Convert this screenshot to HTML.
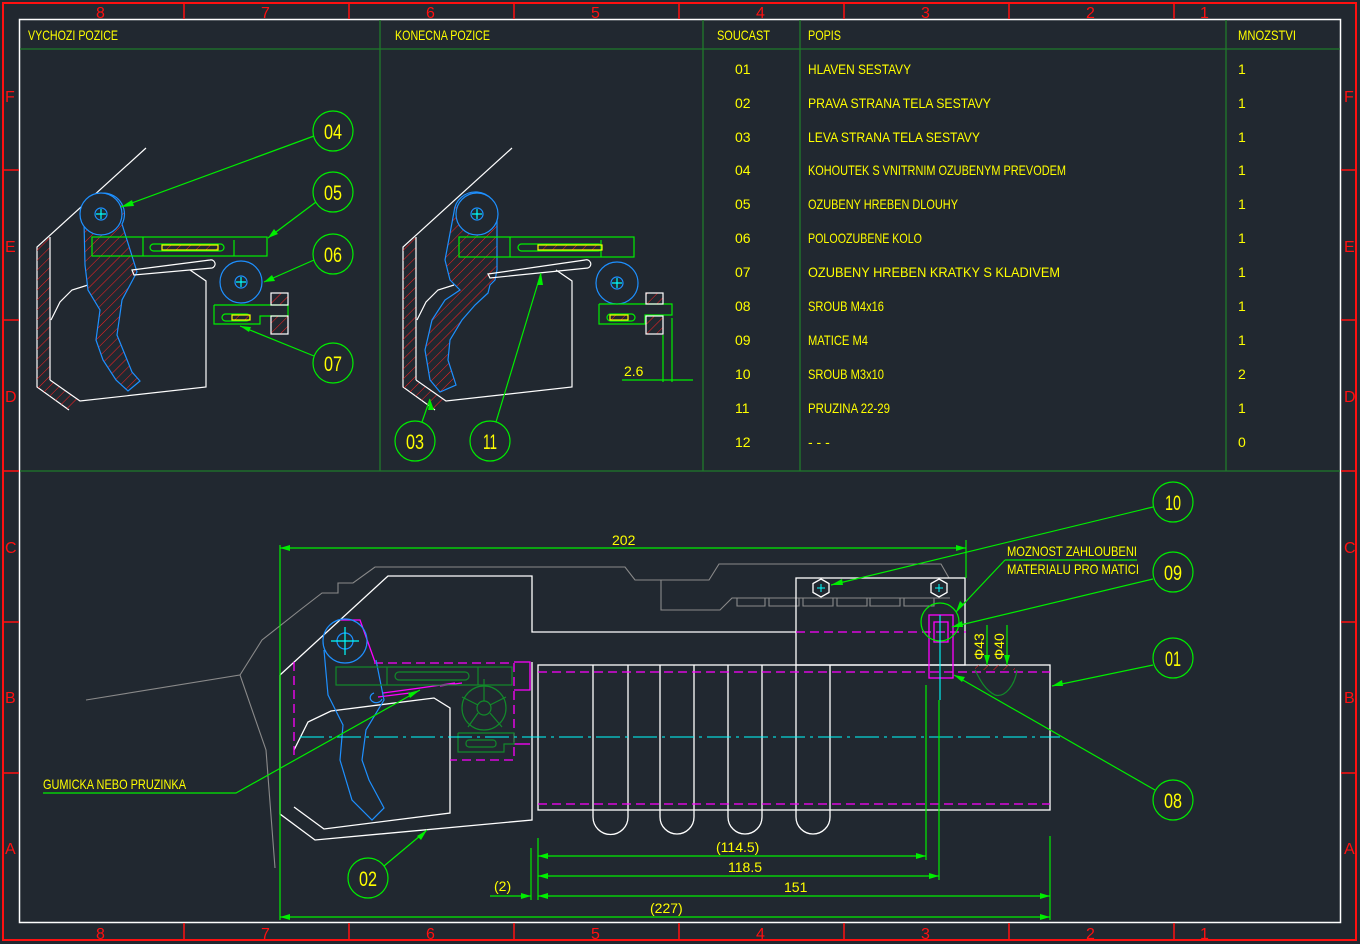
<!DOCTYPE html>
<html><head><meta charset="utf-8"><style>
html,body{margin:0;padding:0;background:#212830;}
svg{display:block}
text{font-family:"Liberation Sans",sans-serif;fill:#ffff00;font-size:14px}
.r{fill:#ff1010;font-size:16px}
.b{font-size:21px;text-anchor:middle}
</style></head><body>
<svg width="1360" height="944" viewBox="0 0 1360 944" xmlns="http://www.w3.org/2000/svg">
<defs>
<pattern id="h" width="7" height="7" patternUnits="userSpaceOnUse" patternTransform="rotate(45)"><line x1="0" y1="0" x2="0" y2="7" stroke="#ff2020" stroke-width="1"/></pattern>
<g id="mech">
 <polyline points="146,148 37,247 37,387 69,410" fill="none" stroke="#fff" stroke-width="1.2"/>
 <polygon points="37,247 50,237 50,380 80,401 69,410 37,387" fill="url(#h)" stroke="none"/>
 <line x1="50" y1="237" x2="50" y2="380" stroke="#fff" stroke-width="1.2"/>
 <polyline points="50,380 80,401 206,387 206,281 190,270" fill="none" stroke="#fff" stroke-width="1.2"/>
 <path d="M51,320 L60,302 L72,290 L88,285" fill="none" stroke="#fff" stroke-width="1.2"/>
</g>
</defs>

<rect x="3" y="3" width="1353" height="937" fill="none" stroke="#ff1010" stroke-width="2"/>
<rect x="19.5" y="19.5" width="1321" height="903" fill="none" stroke="#fff" stroke-width="1.5"/>
<g stroke="#ff1010" stroke-width="1.5">
<line x1="184" y1="3" x2="184" y2="19"/><line x1="349" y1="3" x2="349" y2="19"/><line x1="514" y1="3" x2="514" y2="19"/><line x1="679" y1="3" x2="679" y2="19"/><line x1="844" y1="3" x2="844" y2="19"/><line x1="1009" y1="3" x2="1009" y2="19"/><line x1="1174" y1="3" x2="1174" y2="19"/>
<line x1="184" y1="923" x2="184" y2="940"/><line x1="349" y1="923" x2="349" y2="940"/><line x1="514" y1="923" x2="514" y2="940"/><line x1="679" y1="923" x2="679" y2="940"/><line x1="844" y1="923" x2="844" y2="940"/><line x1="1009" y1="923" x2="1009" y2="940"/><line x1="1174" y1="923" x2="1174" y2="940"/>
<line x1="3" y1="170" x2="19" y2="170"/><line x1="3" y1="320" x2="19" y2="320"/><line x1="3" y1="471" x2="19" y2="471"/><line x1="3" y1="622" x2="19" y2="622"/><line x1="3" y1="773" x2="19" y2="773"/>
<line x1="1341" y1="170" x2="1356" y2="170"/><line x1="1341" y1="320" x2="1356" y2="320"/><line x1="1341" y1="471" x2="1356" y2="471"/><line x1="1341" y1="622" x2="1356" y2="622"/><line x1="1341" y1="773" x2="1356" y2="773"/>
</g>
<g>
<text class="r" x="96" y="18">8</text><text class="r" x="261" y="18">7</text><text class="r" x="426" y="18">6</text><text class="r" x="591" y="18">5</text><text class="r" x="756" y="18">4</text><text class="r" x="921" y="18">3</text><text class="r" x="1086" y="18">2</text><text class="r" x="1200" y="18">1</text>
<text class="r" x="96" y="939">8</text><text class="r" x="261" y="939">7</text><text class="r" x="426" y="939">6</text><text class="r" x="591" y="939">5</text><text class="r" x="756" y="939">4</text><text class="r" x="921" y="939">3</text><text class="r" x="1086" y="939">2</text><text class="r" x="1200" y="939">1</text>
<text class="r" x="5" y="102">F</text><text class="r" x="5" y="252">E</text><text class="r" x="5" y="402">D</text><text class="r" x="5" y="553">C</text><text class="r" x="5" y="703">B</text><text class="r" x="5" y="854">A</text>
<text class="r" x="1344" y="102">F</text><text class="r" x="1344" y="252">E</text><text class="r" x="1344" y="402">D</text><text class="r" x="1344" y="553">C</text><text class="r" x="1344" y="703">B</text><text class="r" x="1344" y="854">A</text>
</g>

<g stroke="#1f7a2a" stroke-width="1.3">
<line x1="20" y1="49" x2="1340" y2="49"/>
<line x1="20" y1="471" x2="1340" y2="471"/>
<line x1="380" y1="20" x2="380" y2="471"/>
<line x1="703" y1="20" x2="703" y2="471"/>
<line x1="800" y1="20" x2="800" y2="471"/>
<line x1="1226" y1="20" x2="1226" y2="471"/>
</g>
<text x="28" y="40" textLength="90" lengthAdjust="spacingAndGlyphs">VYCHOZI POZICE</text>
<text x="395" y="40" textLength="95" lengthAdjust="spacingAndGlyphs">KONECNA POZICE</text>
<text x="717" y="40" textLength="53" lengthAdjust="spacingAndGlyphs">SOUCAST</text>
<text x="808" y="40" textLength="33" lengthAdjust="spacingAndGlyphs">POPIS</text>
<text x="1238" y="40" textLength="58" lengthAdjust="spacingAndGlyphs">MNOZSTVI</text>
<g>
<text x="735" y="74">01</text><text x="808" y="74" textLength="103" lengthAdjust="spacingAndGlyphs">HLAVEN SESTAVY</text><text x="1238" y="74">1</text>
<text x="735" y="108">02</text><text x="808" y="108" textLength="183" lengthAdjust="spacingAndGlyphs">PRAVA STRANA TELA SESTAVY</text><text x="1238" y="108">1</text>
<text x="735" y="142">03</text><text x="808" y="142" textLength="172" lengthAdjust="spacingAndGlyphs">LEVA STRANA TELA SESTAVY</text><text x="1238" y="142">1</text>
<text x="735" y="175">04</text><text x="808" y="175" textLength="258" lengthAdjust="spacingAndGlyphs">KOHOUTEK S VNITRNIM OZUBENYM PREVODEM</text><text x="1238" y="175">1</text>
<text x="735" y="209">05</text><text x="808" y="209" textLength="150" lengthAdjust="spacingAndGlyphs">OZUBENY HREBEN DLOUHY</text><text x="1238" y="209">1</text>
<text x="735" y="243">06</text><text x="808" y="243" textLength="114" lengthAdjust="spacingAndGlyphs">POLOOZUBENE KOLO</text><text x="1238" y="243">1</text>
<text x="735" y="277">07</text><text x="808" y="277" textLength="252" lengthAdjust="spacingAndGlyphs">OZUBENY HREBEN KRATKY S KLADIVEM</text><text x="1238" y="277">1</text>
<text x="735" y="311">08</text><text x="808" y="311" textLength="76" lengthAdjust="spacingAndGlyphs">SROUB M4x16</text><text x="1238" y="311">1</text>
<text x="735" y="345">09</text><text x="808" y="345" textLength="60" lengthAdjust="spacingAndGlyphs">MATICE M4</text><text x="1238" y="345">1</text>
<text x="735" y="379">10</text><text x="808" y="379" textLength="76" lengthAdjust="spacingAndGlyphs">SROUB M3x10</text><text x="1238" y="379">2</text>
<text x="735" y="413">11</text><text x="808" y="413" textLength="82" lengthAdjust="spacingAndGlyphs">PRUZINA 22-29</text><text x="1238" y="413">1</text>
<text x="735" y="447">12</text><text x="808" y="447">- - -</text><text x="1238" y="447">0</text>
</g>

<!-- VIEW 1 -->
<use href="#mech"/>
<g fill="none" stroke-width="1.2">
 <path d="M84,222 A21,21 0 1 1 122,224 L137,272 L130,285 L122,300 L117,335 L132,372 L140,381 L128,391 L116,380 L103,360 L96,340 L100,310 L88,290 L85,265 Z" fill="url(#h)" stroke="#1e90ff"/>
 <circle cx="101" cy="214" r="21" stroke="#1e90ff" fill="#212830"/>
 <circle cx="101" cy="214" r="6" stroke="#1e90ff"/>
 <path d="M96,214h10M101,209v10" stroke="#00ffff"/>
 <rect x="92" y="237" width="175" height="19" stroke="#00ee00"/>
 <line x1="143" y1="237" x2="143" y2="256" stroke="#00ee00"/>
 <line x1="234" y1="240" x2="234" y2="256" stroke="#00ee00"/>
 <rect x="150" y="244" width="74" height="7" rx="3.5" stroke="#00ee00"/>
 <rect x="162" y="245" width="56" height="5" fill="url(#h)" stroke="#ffff00"/>
 <path d="M132,270 L210,260 A4,4 0 0 1 212,268 L134,275 Z" stroke="#fff"/>
 <circle cx="241" cy="282" r="21" stroke="#1e90ff"/>
 <circle cx="241" cy="282" r="6" stroke="#1e90ff"/>
 <path d="M236,282h10M241,277v10" stroke="#00ffff"/>
 <polyline points="214,305 288,305 288,316 260,316 260,324 214,324 214,305" stroke="#00ee00"/>
 <rect x="222" y="314" width="28" height="7" rx="3.5" stroke="#00ee00"/>
 <rect x="232" y="315" width="18" height="5" fill="url(#h)" stroke="#ffff00"/>
 <rect x="271" y="293" width="17" height="12" fill="url(#h)" stroke="#fff"/>
 <rect x="271" y="316" width="17" height="18" fill="url(#h)" stroke="#fff"/>
</g>
<!-- VIEW 2 -->
<use href="#mech" transform="translate(366,0)"/>
<g fill="none" stroke-width="1.2">
 <path d="M454,212 A21,21 0 1 1 497,215 L497,270 L495,280 L490,285 L488,293 L475,305 L462,320 L450,340 L448,360 L456,385 L440,392 L430,380 L425,350 L432,320 L445,300 L460,290 L450,280 L445,260 Z" fill="url(#h)" stroke="#1e90ff"/>
 <circle cx="477" cy="214" r="21" stroke="#1e90ff" fill="#212830"/>
 <circle cx="477" cy="214" r="6" stroke="#1e90ff"/>
 <path d="M472,214h10M477,209v10" stroke="#00ffff"/>
 <rect x="459" y="237" width="175" height="20" stroke="#00ee00"/>
 <line x1="510" y1="237" x2="510" y2="257" stroke="#00ee00"/>
 <line x1="601" y1="240" x2="601" y2="257" stroke="#00ee00"/>
 <rect x="518" y="244" width="84" height="7" rx="3.5" stroke="#00ee00"/>
 <rect x="538" y="245" width="64" height="5" fill="url(#h)" stroke="#ffff00"/>
 <path d="M488,274 L585,260 A4,4 0 0 1 588,268 L490,278 Z" stroke="#fff"/>
 <circle cx="617" cy="283" r="21" stroke="#1e90ff"/>
 <circle cx="617" cy="283" r="6" stroke="#1e90ff"/>
 <path d="M612,283h10M617,278v10" stroke="#00ffff"/>
 <polyline points="599,304 672,304 672,315 645,315 645,324 599,324 599,304" stroke="#00ee00"/>
 <rect x="607" y="314" width="28" height="7" rx="3.5" stroke="#00ee00"/>
 <rect x="610" y="315" width="18" height="5" fill="url(#h)" stroke="#ffff00"/>
 <rect x="646" y="293" width="17" height="11" fill="url(#h)" stroke="#fff"/>
 <rect x="646" y="316" width="17" height="18" fill="url(#h)" stroke="#fff"/>
</g>
<g stroke="#00ee00" stroke-width="1.2" fill="none">
 <line x1="663" y1="335" x2="663" y2="382"/><line x1="672" y1="318" x2="672" y2="382"/>
 <line x1="622" y1="380" x2="693" y2="380"/>
</g>
<text x="624" y="376">2.6</text>

<g stroke="#00ee00" stroke-width="1.2" fill="none">
 <circle cx="333" cy="131" r="20"/><circle cx="333" cy="192" r="20"/><circle cx="333" cy="254" r="20"/><circle cx="333" cy="363" r="20"/>
 <circle cx="415" cy="441" r="20"/><circle cx="490" cy="441" r="20"/>
 <line x1="314" y1="136" x2="121" y2="207"/>
 <line x1="316" y1="202" x2="268" y2="238"/>
 <line x1="314" y1="260" x2="264" y2="282"/>
 <line x1="314" y1="356" x2="240" y2="326"/>
 <line x1="422" y1="422" x2="430" y2="399"/>
 <line x1="496" y1="422" x2="541" y2="273"/>
</g>
<g fill="#00ee00">
 <polygon points="121,207 132,200 134,206"/><polygon points="268,238 274,229 278,234"/><polygon points="264,282 272,275 275,281"/><polygon points="240,326 251,327 249,332"/><polygon points="430,399 428,410 434,410"/><polygon points="541,273 537,285 543,285"/>
</g>
<text class="b" x="333" y="139" textLength="18" lengthAdjust="spacingAndGlyphs">04</text>
<text class="b" x="333" y="200" textLength="18" lengthAdjust="spacingAndGlyphs">05</text>
<text class="b" x="333" y="262" textLength="18" lengthAdjust="spacingAndGlyphs">06</text>
<text class="b" x="333" y="371" textLength="18" lengthAdjust="spacingAndGlyphs">07</text>
<text class="b" x="415" y="449" textLength="18" lengthAdjust="spacingAndGlyphs">03</text>
<text class="b" x="490" y="449" textLength="14" lengthAdjust="spacingAndGlyphs">11</text>

<!-- BOTTOM VIEW -->
<g fill="none" stroke="#8a8a8a" stroke-width="1.1">
 <polyline points="86,700 240,675 266,750 275,868"/>
 <polyline points="240,675 262,640 300,610 322,593 338,593 338,583 353,583 375,567 625,567 635,580 709,580 719,564 941,564 949,578"/>
 <polyline points="640,580 661,580 661,610 720,610 732,598 950,598"/>
 <path d="M737,598v8h28v-8M769,598v8h30v-8M803,598v8h30v-8M837,598v8h30v-8M870,598v8h30v-8M904,598v8h30v-8"/>
</g>
<g fill="none" stroke="#fff" stroke-width="1.3">
 <polyline points="280,675 388,576 532,576 532,632 796,632"/>
 <polyline points="280,675 280,814 315,840 532,820 532,662"/>
 <polyline points="294,807 324,829 450,813 450,708 434,698 331,711 308,722 294,750"/>
 <rect x="796" y="578" width="169" height="87"/>
 <rect x="538" y="665" width="512" height="145"/>
 <path d="M593,810v7a17.5,17.5 0 0 0 35,0v-7M660,810v7a17,17 0 0 0 34,0v-7M728,810v7a17,17 0 0 0 34,0v-7M796,810v7a17,17 0 0 0 34,0v-7"/>
 <path d="M593,665v145M628,665v145M660,665v145M694,665v145M728,665v145M762,665v145M796,665v145M830,665v145"/>
 <polygon points="821,579 829,583.5 829,592.5 821,597 813,592.5 813,583.5"/>
 <polygon points="939,579 947,583.5 947,592.5 939,597 931,592.5 931,583.5"/>
</g>
<path d="M817,588h8M821,584v8M935,588h8M939,584v8" stroke="#00ffff"/>
<g fill="none" stroke="#ff00ff" stroke-width="1.3" stroke-dasharray="9,5">
 <line x1="796" y1="632" x2="966" y2="632"/>
 <line x1="538" y1="672" x2="1050" y2="672"/>
 <line x1="538" y1="804" x2="1050" y2="804"/>
 <polyline points="294,662 294,760"/>
 <polyline points="374,663 514,663 514,760 450,760"/>
</g>
<g fill="none" stroke="#ff00ff" stroke-width="1.3">
 <rect x="929" y="615" width="24" height="63"/><rect x="934" y="622" width="14" height="20"/>
 <polyline points="514,662 530,662 530,690 514,690"/><polyline points="514,744 530,744"/>
 <polyline points="341,620 360,620 375,662"/>
 <path d="M383,693 L420,688 L455,683 M378,697 L410,693 M440,686 L462,683"/>
</g>
<g fill="none" stroke="#1e90ff" stroke-width="1.2">
 <circle cx="345" cy="641" r="22"/><circle cx="345" cy="641" r="8"/>
 <path d="M324,650 L328,695 L343,725 L340,760 L352,800 L372,820 L384,808 L369,780 L362,760 L366,730 L384,700 L376,660"/>
 <path d="M374,693a6,5 0 1 0 8,6"/>
</g>
<path d="M331,641h28M345,627v28" stroke="#00ffff" stroke-width="1.2"/>
<g fill="none" stroke="#128a2a" stroke-width="1.2">
 <rect x="336" y="667" width="176" height="18"/><line x1="387" y1="667" x2="387" y2="685"/><line x1="478" y1="667" x2="478" y2="685"/>
 <rect x="395" y="672" width="74" height="8" rx="4"/>
 <circle cx="484" cy="708" r="22"/><circle cx="484" cy="708" r="7"/>
 <path d="M484,701v-22M490,705l16-8M490,713l12,14M478,713l-10,14M478,705l-16-8"/>
 <polyline points="458,733 514,733 514,744 504,744 504,752 458,752 458,733"/>
 <rect x="466" y="740" width="30" height="7" rx="3"/>
 <circle cx="940" cy="622" r="19" stroke="#00ee00"/>
 <path d="M975,670 C980,680 985,690 995,695 C1005,698 1015,685 1017,670"/>
</g>
<rect x="975" y="665" width="40" height="5" fill="url(#h)"/>
<path d="M300,737H1060" stroke="#00ffff" stroke-width="1.1" stroke-dasharray="24,5,3,5"/>
<path d="M940,615V700" stroke="#00ffff" stroke-width="1.1"/>

<g stroke="#00ee00" stroke-width="1.2" fill="none">
 <line x1="280" y1="548" x2="966" y2="548"/>
 <line x1="280" y1="545" x2="280" y2="920"/>
 <line x1="966" y1="540" x2="966" y2="578"/>
 <line x1="280" y1="917" x2="1050" y2="917"/>
 <line x1="538" y1="896" x2="1050" y2="896"/>
 <line x1="490" y1="896" x2="531" y2="896"/>
 <line x1="531" y1="848" x2="531" y2="900"/>
 <line x1="538" y1="838" x2="538" y2="900"/>
 <line x1="1050" y1="836" x2="1050" y2="920"/>
 <line x1="538" y1="856" x2="926" y2="856"/>
 <line x1="538" y1="876" x2="939" y2="876"/>
 <line x1="926" y1="685" x2="926" y2="860"/>
 <line x1="939" y1="700" x2="939" y2="880"/>
 <line x1="987" y1="625" x2="987" y2="665"/><line x1="1007" y1="625" x2="1007" y2="665"/>
 <circle cx="1173" cy="502" r="20"/><circle cx="1173" cy="572" r="20"/><circle cx="1173" cy="658" r="20"/><circle cx="1173" cy="800" r="20"/><circle cx="368" cy="878" r="20"/>
 <line x1="1153" y1="507" x2="831" y2="585"/>
 <line x1="1153" y1="579" x2="952" y2="627"/>
 <line x1="1153" y1="665" x2="1052" y2="686"/>
 <line x1="1155" y1="790" x2="954" y2="675"/>
 <line x1="384" y1="866" x2="427" y2="830"/>
 <polyline points="43,793 236,793 420,690"/>
 <polyline points="1005,560 1137,560"/>
 <polyline points="1005,560 956,612"/>
</g>
<g fill="#00ee00">
 <polygon points="280,548 290,545 290,551"/><polygon points="966,548 956,545 956,551"/>
 <polygon points="280,917 290,914 290,920"/><polygon points="1050,917 1040,914 1040,920"/>
 <polygon points="538,896 548,893 548,899"/><polygon points="1050,896 1040,893 1040,899"/><polygon points="531,896 521,893 521,899"/>
 <polygon points="538,856 548,853 548,859"/><polygon points="926,856 916,853 916,859"/>
 <polygon points="538,876 548,873 548,879"/><polygon points="939,876 929,873 929,879"/>
 <polygon points="987,665 984,655 990,655"/><polygon points="1007,665 1004,655 1010,655"/>
 <polygon points="831,585 842,579 843,585"/><polygon points="952,627 962,621 963,627"/><polygon points="1052,686 1062,680 1063,686"/><polygon points="954,675 965,677 962,682"/><polygon points="427,830 421,840 417,836"/><polygon points="420,690 410,698 408,693"/><polygon points="956,612 960,601 964,605"/>
</g>
<text x="612" y="545">202</text>
<text x="650" y="913">(227)</text>
<text x="784" y="892">151</text>
<text x="728" y="872">118.5</text>
<text x="716" y="852">(114.5)</text>
<text x="494" y="891">(2)</text>
<text transform="translate(984,660) rotate(-90)" font-size="13">Φ43</text>
<text transform="translate(1004,660) rotate(-90)" font-size="13">Φ40</text>
<text x="1007" y="556" textLength="130" lengthAdjust="spacingAndGlyphs">MOZNOST ZAHLOUBENI</text>
<text x="1007" y="574" textLength="132" lengthAdjust="spacingAndGlyphs">MATERIALU PRO MATICI</text>
<text x="43" y="789" textLength="143" lengthAdjust="spacingAndGlyphs">GUMICKA NEBO PRUZINKA</text>
<text class="b" x="1173" y="510" textLength="16" lengthAdjust="spacingAndGlyphs">10</text>
<text class="b" x="1173" y="580" textLength="18" lengthAdjust="spacingAndGlyphs">09</text>
<text class="b" x="1173" y="666" textLength="16" lengthAdjust="spacingAndGlyphs">01</text>
<text class="b" x="1173" y="808" textLength="18" lengthAdjust="spacingAndGlyphs">08</text>
<text class="b" x="368" y="886" textLength="18" lengthAdjust="spacingAndGlyphs">02</text>
</svg>
</body></html>
